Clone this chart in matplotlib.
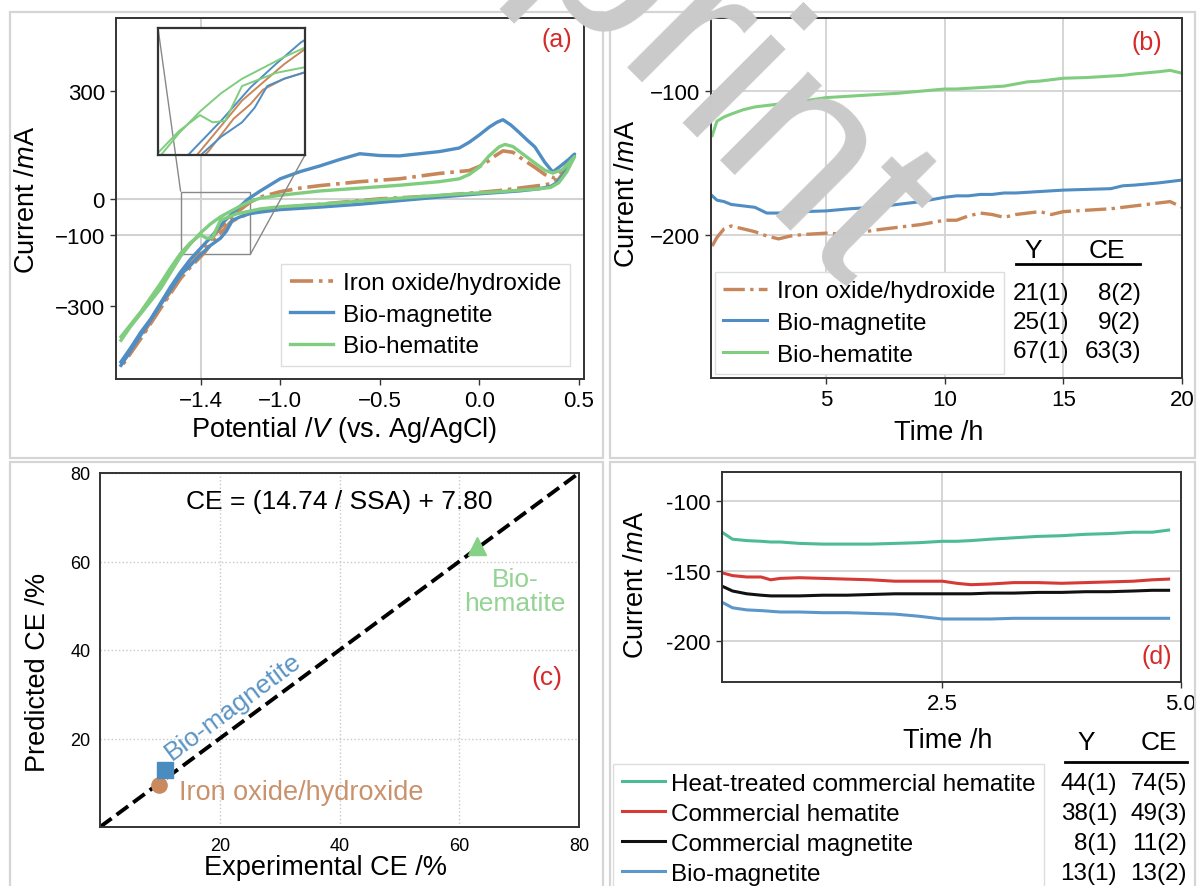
import matplotlib
matplotlib.use("Agg")
import matplotlib.pyplot as plt
from matplotlib.patches import Rectangle
from matplotlib.lines import Line2D
from mpl_toolkits.axes_grid1.inset_locator import mark_inset

plt.rcParams['font.family'] = ['Liberation Sans', 'DejaVu Sans']
plt.rcParams['mathtext.fontset'] = 'custom'
plt.rcParams['mathtext.rm'] = 'Liberation Sans'
plt.rcParams['mathtext.it'] = 'Liberation Sans:italic'

# ---------------- data ----------------
# (a) cyclic voltammograms: forward scan then return scan
iron_v = [-1.80, -1.70, -1.60, -1.50, -1.40, -1.35, -1.30, -1.25, -1.20, -1.15, -1.10, -1.00, -0.90,
          -0.80, -0.60, -0.40, -0.20, -0.05, 0.02, 0.08, 0.12, 0.17, 0.22, 0.28, 0.33, 0.38, 0.43, 0.48,
          0.44, 0.40, 0.36, 0.30, 0.10, 0.00, -0.20, -0.50, -0.80, -1.00, -1.10, -1.15, -1.20, -1.25,
          -1.28, -1.32, -1.38, -1.45, -1.50, -1.60, -1.70, -1.80]
iron_i = [-462, -385, -300, -215, -150, -115, -80, -55, -30, -9, 5, 20, 30,
          37, 48, 56, 71, 79, 95, 120, 134, 130, 110, 88, 68, 58, 85, 128,
          85, 55, 42, 37, 23, 18, 9, 0, -15, -25, -32, -41, -50, -65,
          -85, -105, -150, -190, -222, -305, -390, -470]

bmag_v = [-1.80, -1.75, -1.70, -1.65, -1.60, -1.55, -1.50, -1.45, -1.42, -1.35, -1.28, -1.22, -1.16,
          -1.10, -1.00, -0.90, -0.80, -0.70, -0.60, -0.50, -0.40, -0.30, -0.20, -0.10, -0.05, 0.00,
          0.05, 0.09, 0.12, 0.16, 0.20, 0.24, 0.28, 0.33, 0.37, 0.41, 0.45, 0.48,
          0.45, 0.42, 0.39, 0.36, 0.30, 0.20, 0.10, 0.00, -0.20, -0.40, -0.60, -0.80, -1.00, -1.10,
          -1.15, -1.20, -1.24, -1.27, -1.30, -1.35, -1.40, -1.45, -1.50, -1.60, -1.70, -1.80]
bmag_i = [-455, -415, -372, -335, -290, -245, -204, -168, -150, -108, -62, -30, 0,
          22, 56, 76, 92, 110, 126, 121, 120, 126, 132, 142, 158, 178,
          200, 214, 221, 206, 186, 165, 145, 102, 75, 92, 110, 125,
          95, 65, 45, 35, 28, 22, 18, 14, 5, -5, -15, -23, -30, -37,
          -41, -50, -60, -90, -110, -130, -156, -185, -212, -295, -380, -465]

bhem_v = [-1.80, -1.75, -1.70, -1.65, -1.60, -1.55, -1.50, -1.45, -1.40, -1.35, -1.30, -1.25, -1.20,
          -1.15, -1.10, -1.00, -0.80, -0.60, -0.40, -0.20, -0.10, -0.05, 0.00, 0.05, 0.10, 0.13,
          0.17, 0.22, 0.28, 0.33, 0.37, 0.42, 0.48,
          0.44, 0.40, 0.36, 0.30, 0.10, -0.20, -0.50, -0.80, -1.00, -1.10, -1.15, -1.22, -1.30,
          -1.34, -1.37, -1.40, -1.45, -1.50, -1.55, -1.60, -1.70, -1.80]
bhem_i = [-395, -355, -320, -285, -250, -205, -160, -125, -95, -70, -50, -35, -20,
          -7, 2, 10, 22, 30, 38, 48, 56, 68, 88, 120, 145, 152,
          146, 125, 100, 80, 72, 82, 118,
          75, 45, 32, 28, 20, 10, -2, -15, -22, -28, -34, -42, -60,
          -108, -110, -100, -122, -152, -192, -235, -315, -385]

# (b) chronoamperometry, 20 h
tb = [0.2, 0.4, 0.7, 1, 1.5, 2, 2.5, 3, 3.5, 4, 5, 6, 7, 8, 9, 10, 10.5, 11, 11.5, 12, 12.5, 13,
      13.5, 14, 14.5, 15, 16, 17, 17.5, 18, 19, 19.5, 20]
b_iron = [-208, -202, -196, -194, -196, -198, -201, -203, -201, -200, -199, -200, -197, -195, -193,
          -190, -190, -187, -185, -186, -188, -186, -185, -184, -186, -184, -183, -182, -181, -180,
          -178, -177, -181]
b_bmag = [-173, -176, -177, -179, -180, -181, -185, -185, -184, -184, -183.5, -182, -181, -179, -177,
          -174, -173, -173, -172, -172, -171, -171, -170.5, -170, -169.5, -169, -168.5, -168,
          -166, -165.5, -164, -163, -162]
b_bhem = [-131, -121, -118, -116, -113, -111, -110, -109, -108, -107, -104.5, -103.5, -102.5, -101.5,
          -100, -98.5, -98.5, -98, -97.5, -97, -96.5, -95, -93.5, -93, -92, -91, -90.5, -89.5, -89,
          -88, -86.5, -85.5, -87.5]

# (c) predicted vs experimental CE
c_names = ['Iron oxide/hydroxide', 'Bio-magnetite', 'Bio-hematite']
c_exp = [9.8, 10.8, 63.0]
c_pred = [9.4, 12.8, 63.5]

# (d) chronoamperometry, 5 h
td = [0.19, 0.3, 0.45, 0.6, 0.7, 0.8, 1.0, 1.25, 1.5, 1.75, 2.0, 2.25, 2.5, 2.65, 2.8, 3.0, 3.25,
      3.5, 3.75, 4.0, 4.25, 4.5, 4.7, 4.87]
d_heat = [-122, -127, -128, -128.5, -129, -129, -130, -130.5, -130.5, -130.5, -130, -129.5, -128.5,
          -128.5, -128, -127, -126, -125, -124.5, -123.5, -123, -122, -122, -120.5]
d_chem = [-151, -153, -154, -154, -156, -155, -154.5, -155, -155.5, -156, -157, -157, -157, -158.5,
          -159.5, -159, -158, -158, -158.5, -158, -157.5, -157, -156, -155.5]
d_cmag = [-160.5, -164, -166, -167, -167.5, -167.5, -167.5, -167, -167, -166.5, -166, -166, -166,
          -166, -166, -165.5, -165.5, -165, -165, -164.5, -164.5, -164, -163.5, -163.5]
d_bmag = [-172, -176, -177.5, -178, -178.5, -179, -179, -179.5, -179.5, -180, -180.5, -182, -184,
          -184, -184, -184, -183.5, -183.5, -183.5, -183.5, -183.5, -183.5, -183.5, -183.5]

ab_labels = ['Iron oxide/hydroxide', 'Bio-magnetite', 'Bio-hematite']
b_y = ['21(1)', '25(1)', '67(1)']
b_ce = ['8(2)', '9(2)', '63(3)']
d_labels = ['Heat-treated commercial hematite', 'Commercial hematite', 'Commercial magnetite',
            'Bio-magnetite']
d_y = ['44(1)', '38(1)', '8(1)', '13(1)']
d_ce = ['74(5)', '49(3)', '11(2)', '13(2)']

# ---------------- style ----------------
c_iron = '#c8875a'
c_bmag = '#4f8dc2'
c_bhem = '#80cd80'
d_colors = ['#4dbb95', '#d63a36', '#111111', '#5b97c9']
red = '#d42a2a'
spine_c = '#333333'
grid_c = '#d2d2d2'

W, H = 1200, 887
fig = plt.figure(figsize=(12, 8.87), dpi=100)


def box(l, t, r, b):
    return [l / W, 1 - b / H, (r - l) / W, (b - t) / H]


def ftext(x, y, s, **kw):
    fig.text(x / W, 1 - y / H, s, **kw)


def style(ax, size=16):
    for sp in ax.spines.values():
        sp.set_color(spine_c)
        sp.set_linewidth(1.4)
    ax.tick_params(labelsize=size, length=4, width=1, color=spine_c, pad=4)


def labels(ax, bx, xl, yl, xpos, ypos, size=19.5):
    l, t, r, b = bx
    ax.set_xlabel(xl, fontsize=size)
    ax.set_ylabel(yl, fontsize=size)
    ax.xaxis.set_label_coords((xpos[0] - l) / (r - l), (b - xpos[1]) / (b - t))
    ax.yaxis.set_label_coords((ypos[0] - l) / (r - l), (b - ypos[1]) / (b - t))
    ax.xaxis.label.set_va('center')
    ax.yaxis.label.set_va('center')


# panel frames
for (l, t, r, b) in [(10, 13, 603, 459), (610, 13, 1195, 459), (10, 463, 603, 900), (610, 463, 1195, 900)]:
    fig.patches.append(Rectangle((l / W, 1 - b / H), (r - l) / W, (b - t) / H, transform=fig.transFigure,
                                 fill=False, ec='#d5d5d5', lw=1.6, zorder=0))

leg_kw = dict(fontsize=17.5, fancybox=False, edgecolor='#dddddd', framealpha=1, handlelength=1.8,
              handletextpad=0.4, labelspacing=0.4, borderpad=0.35)

# ---------------- (a) ----------------
bxa = (116, 19, 584, 380)
axa = fig.add_axes(box(*bxa))
axa.axhline(0, color=grid_c, lw=1.5, zorder=0)
axa.axhline(-100, color=grid_c, lw=1.5, zorder=0)
axa.axvline(-1.4, color=grid_c, lw=1.5, zorder=0)
axa.plot(iron_v, iron_i, color=c_iron, lw=2.6, ls='-.', label=ab_labels[0])
axa.plot(bmag_v, bmag_i, color=c_bmag, lw=2.4, label=ab_labels[1])
axa.plot(bhem_v, bhem_i, color=c_bhem, lw=2.4, label=ab_labels[2])
axa.set_xlim(-1.825, 0.527)
axa.set_ylim(-503, 505)
axa.set_xticks([-1.4, -1.0, -0.5, 0.0, 0.5])
axa.set_yticks([300, 0, -100, -300])
style(axa)
labels(axa, bxa, 'Potential /$V$ (vs. Ag/AgCl)', 'Current /$m$A', (344, 430), (27, 200))
axa.legend(loc='lower right', bbox_to_anchor=(0.97, 0.036), borderaxespad=0, **leg_kw)

axins = fig.add_axes(box(158, 29, 305, 156))
axins.plot(iron_v, iron_i, color=c_iron, lw=1.4)
axins.plot(bmag_v, bmag_i, color=c_bmag, lw=1.4)
axins.plot(bhem_v, bhem_i, color=c_bhem, lw=1.4)
axins.set_xlim(-1.5, -1.15)
axins.set_ylim(-155, 20)
axins.set_xticks([])
axins.set_yticks([])
for sp in axins.spines.values():
    sp.set_color(spine_c)
    sp.set_linewidth(1.6)
mark_inset(axa, axins, loc1=2, loc2=4, fc='none', ec='#888888', lw=1)

# ---------------- (b) ----------------
bxb = (711, 19, 1182, 379)
axb = fig.add_axes(box(*bxb))
axb.grid(color=grid_c, lw=1.3)
axb.set_axisbelow(True)
axb.plot(tb, b_iron, color=c_iron, lw=2.4, ls='-.', label=ab_labels[0])
axb.plot(tb, b_bmag, color=c_bmag, lw=2.2, label=ab_labels[1])
axb.plot(tb, b_bhem, color=c_bhem, lw=2.2, label=ab_labels[2])
axb.set_xlim(0.15, 20)
axb.set_ylim(-300, -49)
axb.set_xticks([5, 10, 15, 20])
axb.set_yticks([-100, -200])
style(axb)
labels(axb, bxb, 'Time /h', 'Current /$m$A', (939, 433), (627, 194))
axb.legend(loc='lower left', bbox_to_anchor=(0.008, 0.011), borderaxespad=0, **leg_kw)
ftext(1033, 251, 'Y', fontsize=19, ha='center', va='center')
ftext(1107, 251, 'CE', fontsize=19, ha='center', va='center')
fig.add_artist(Line2D([1016 / W, 1140 / W], [1 - 265 / H, 1 - 265 / H], color='black', lw=2))
for k, y in enumerate([294, 323, 352]):
    ftext(1069, y, b_y[k], fontsize=17.5, ha='right', va='center')
    ftext(1141, y, b_ce[k], fontsize=17.5, ha='right', va='center')

# ---------------- (c) ----------------
bxc = (100, 474, 579, 828)
axc = fig.add_axes(box(*bxc))
axc.grid(color='#c8c8c8', lw=1, ls=':')
axc.plot([0, 80], [0, 80], color='black', lw=2.8, ls='--', zorder=2)
axc.plot(c_exp[0], c_pred[0], 'o', color='#c98a5e', ms=11, zorder=3)
axc.plot(c_exp[1], c_pred[1], 's', color='#4a8cc0', ms=12, zorder=3)
axc.plot(c_exp[2], c_pred[2], '^', color='#86d186', ms=13, zorder=3)
axc.set_xlim(0, 80)
axc.set_ylim(0, 80)
axc.set_xticks([20, 40, 60, 80])
axc.set_yticks([20, 40, 60, 80])
style(axc, 13)
axc.tick_params(length=0, pad=7)
labels(axc, bxc, 'Experimental CE /%', 'Predicted CE /%', (325, 868), (38, 672))
axc.text(0.5, 0.92, 'CE = (14.74 / SSA) + 7.80', transform=axc.transAxes, fontsize=19,
         ha='center', va='center')
axc.text(22.2, 27.3, c_names[1], color='#5b95c4', fontsize=19, rotation=36.5,
         ha='center', va='center', rotation_mode='anchor')
axc.text(13.2, 7.9, c_names[0], color='#c9926c', fontsize=19.5, ha='left', va='center')
axc.text(69.3, 53.3, 'Bio-\nhematite', color='#93d393', fontsize=19, ha='center', va='center',
         linespacing=1.0)
axc.text(74.6, 34, '(c)', color=red, fontsize=19, ha='center', va='center')

# ---------------- (d) ----------------
bxd = (722, 473, 1181, 683)
axd = fig.add_axes(box(*bxd))
axd.grid(color=grid_c, lw=1.3)
axd.set_axisbelow(True)
for series, col, lab in zip([d_heat, d_chem, d_cmag, d_bmag], d_colors, d_labels):
    axd.plot(td, series, color=col, lw=2.2, label=lab)
axd.set_xlim(0.19, 5.0)
axd.set_ylim(-229, -79)
axd.set_xticks([2.5, 5.0])
axd.set_yticks([-100, -150, -200])
axd.set_yticklabels(['-100', '-150', '-200'])
style(axd)
labels(axd, bxd, 'Time /h', 'Current /$m$A', (948, 741), (636, 585))
axd.legend(loc='upper left', bbox_to_anchor=((613 - 722) / 459, (683 - 765) / 210), borderaxespad=0,
           **dict(leg_kw, handletextpad=0.25, labelspacing=0.33))
ftext(1157, 657, '(d)', color=red, fontsize=18, ha='center', va='center')
ftext(1086, 743, 'Y', fontsize=19, ha='center', va='center')
ftext(1159, 743, 'CE', fontsize=19, ha='center', va='center')
fig.add_artist(Line2D([1065 / W, 1187 / W], [1 - 763 / H, 1 - 763 / H], color='black', lw=2))
for k, y in enumerate([784, 814, 844, 874]):
    ftext(1117, y, d_y[k], fontsize=17.5, ha='right', va='center')
    ftext(1187, y, d_ce[k], fontsize=17.5, ha='right', va='center')

# watermark, then the panel labels (a)/(b) on top of it
ftext(842, 302, 'Preprint', fontsize=170, color='#cacaca', rotation=-45, ha='right', va='baseline',
      rotation_mode='anchor', zorder=100)
ftext(557, 40, '(a)', color=red, fontsize=18, ha='center', va='center', zorder=101)
ftext(1147, 43, '(b)', color=red, fontsize=18, ha='center', va='center', zorder=101)

plt.savefig('out.png', dpi=100)
